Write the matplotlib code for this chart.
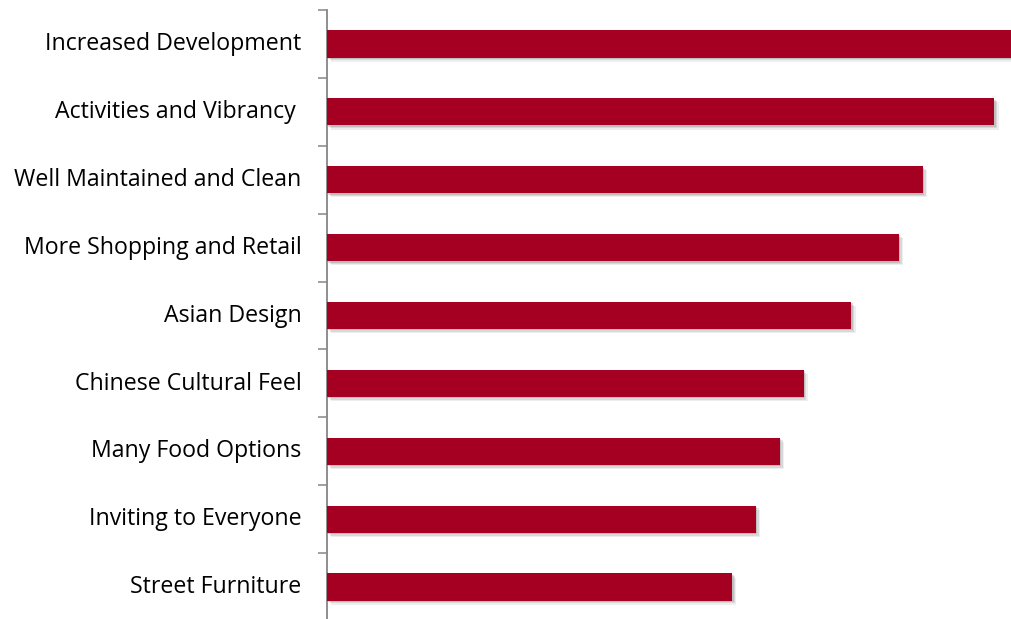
import numpy as np
import matplotlib.pyplot as plt
import matplotlib.patheffects as pe
from matplotlib.transforms import ScaledTranslation

# Data (top to bottom)
categories = ['Increased Development', 'Activities and Vibrancy ', 'Well Maintained and Clean',
              'More Shopping and Retail', 'Asian Design', 'Chinese Cultural Feel',
              'Many Food Options', 'Inviting to Everyone', 'Street Furniture']
values = [29, 28, 25, 24, 22, 20, 19, 18, 17]

bar_color = '#A50021'
axis_color = '#868686'

fig = plt.figure(figsize=(10.11, 6.19), dpi=100)
ax = fig.add_axes([327 / 1011, -2 / 619, 1 - 327 / 1011, 611 / 619])

n = len(categories)
ypos = np.arange(n)
shadow = [pe.SimplePatchShadow(offset=(3, -3), shadow_rgbFace='#aaaaaa', alpha=0.2),
          pe.SimplePatchShadow(offset=(2, -2), shadow_rgbFace='#999999', alpha=0.25),
          pe.SimplePatchShadow(offset=(1, -1), shadow_rgbFace='#888888', alpha=0.3),
          pe.Normal()]
ax.barh(ypos, values, height=0.4, color=bar_color, path_effects=shadow, zorder=3)

ax.set_ylim(n - 0.5, -0.5)
ax.set_xlim(0, 683 / 23.8)

ax.set_yticks(ypos)
ax.set_yticklabels(categories, fontsize=16.7, family=['Open Sans', 'DejaVu Sans'], color='black')
ax.set_yticks(np.arange(n + 1) - 0.5, minor=True)
ax.tick_params(axis='y', which='major', length=0, pad=18.5)
ax.tick_params(axis='y', which='minor', length=6.5, width=1.1, color=axis_color, direction='out')
ax.set_xticks([])

# nudge labels up a little
shift = ScaledTranslation(0, 2 / 72, fig.dpi_scale_trans)
for lab in ax.get_yticklabels():
    lab.set_transform(lab.get_transform() + shift)

for s in ['top', 'right', 'bottom']:
    ax.spines[s].set_visible(False)
ax.spines['left'].set_color(axis_color)
ax.spines['left'].set_linewidth(1.3)

fig.savefig('out.png', dpi=100)
